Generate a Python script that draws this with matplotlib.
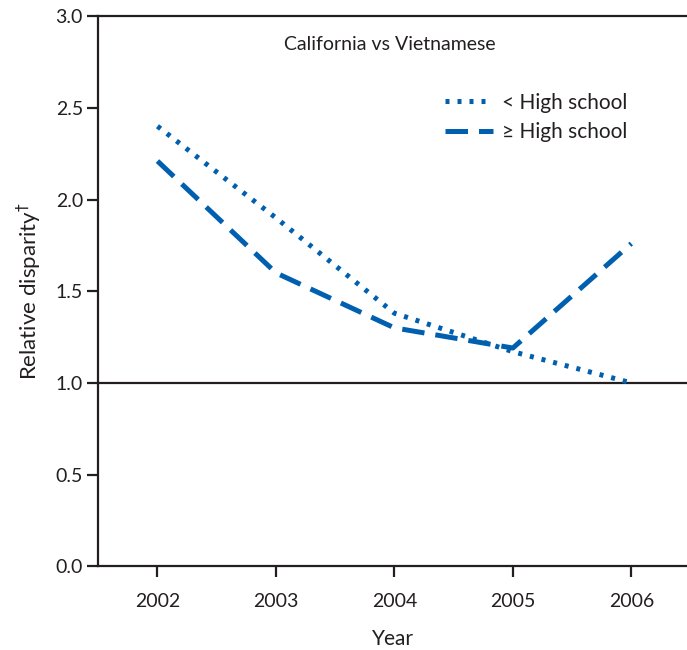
import matplotlib
matplotlib.use('Agg')
import matplotlib.pyplot as plt

plt.rcParams['font.family'] = ['Lato', 'DejaVu Sans']

# data
years = [2002, 2003, 2004, 2005, 2006]
below_hs = [2.40, 1.90, 1.38, 1.17, 1.00]
above_hs = [2.21, 1.60, 1.30, 1.19, 1.76]
yticks = [0.0, 0.5, 1.0, 1.5, 2.0, 2.5, 3.0]

blue = '#0060AF'
ink = '#231F20'

fig = plt.figure(figsize=(6.87, 6.5), dpi=100)
ax = fig.add_axes([0.143, 0.129, 0.857, 0.846])

ax.plot(years, below_hs, color=blue, lw=3.6, linestyle=(0, (0.8, 1.6)),
        label='< High school')
ax.plot(years, above_hs, color=blue, lw=3.6, linestyle=(0, (4.5, 2.2)),
        label='\u2265 High school')
ax.axhline(1.0, color=ink, lw=1.6, zorder=1, clip_on=False)

ax.set_xlim(2001.5, 2006.47)
ax.set_ylim(0, 3.0)
ax.set_xticks(years)
ax.set_yticks(yticks)
ax.set_yticklabels([f'{v:.1f}' for v in yticks])

for side in ['left', 'bottom', 'top']:
    ax.spines[side].set_linewidth(1.6)
    ax.spines[side].set_color(ink)
ax.spines['right'].set_visible(False)
ax.tick_params(axis='both', direction='out', length=8, width=1.6, color=ink,
               labelsize=14, labelcolor=ink)
ax.tick_params(axis='x', pad=11)
ax.tick_params(axis='y', pad=3)

ax.set_xlabel('Year', fontsize=15, color=ink, labelpad=14)
ax.set_ylabel('Relative disparity$^{\\dagger}$', fontsize=16, color=ink, labelpad=8)

ax.text(0.496, 0.949, 'California vs Vietnamese', transform=ax.transAxes,
        ha='center', va='center', fontsize=14, color=ink)

leg = ax.legend(loc='upper right', bbox_to_anchor=(0.93, 0.895), frameon=False,
                fontsize=15, handlelength=2.3, handletextpad=0.4, labelspacing=0.45)
for t in leg.get_texts():
    t.set_color(ink)

fig.savefig('out.png', dpi=100)
